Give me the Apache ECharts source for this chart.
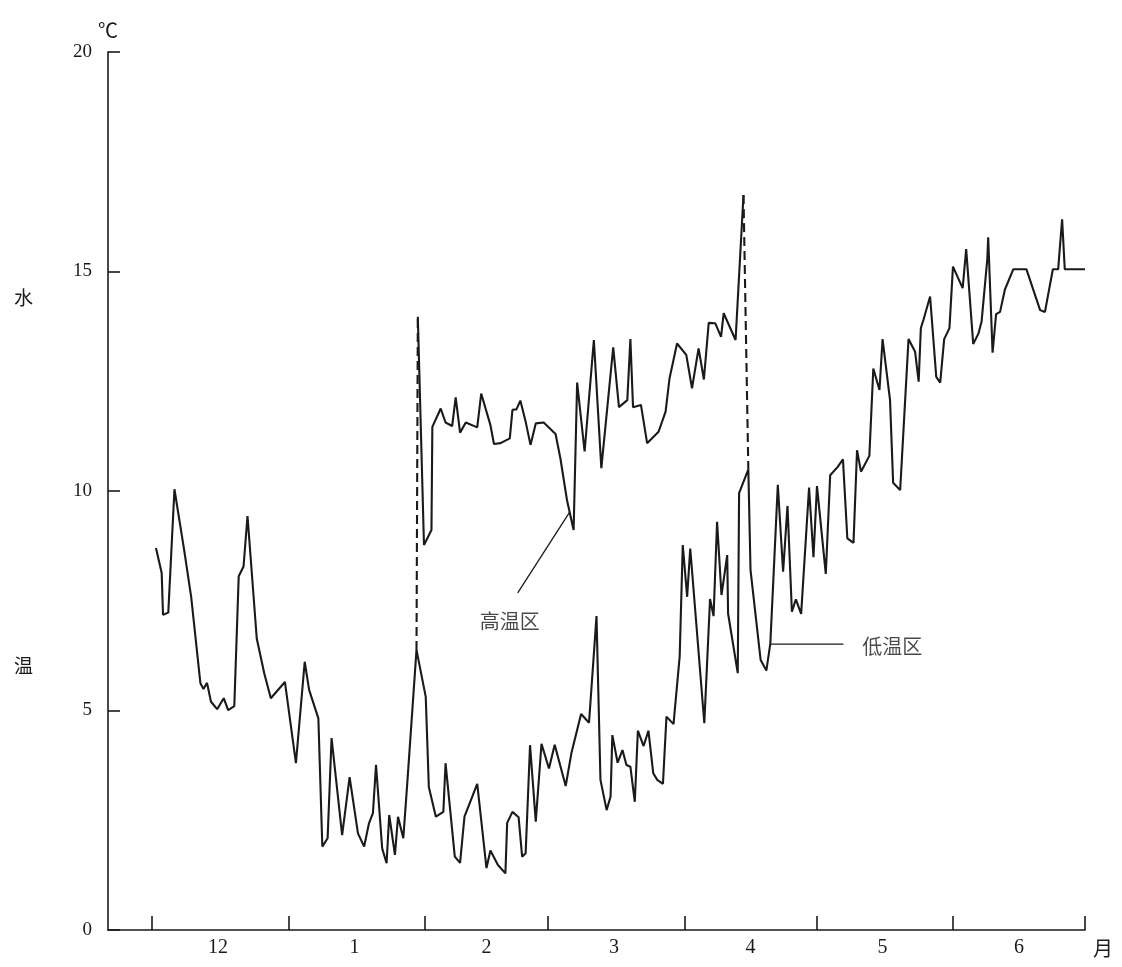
<!DOCTYPE html>
<html>
<head>
<meta charset="utf-8">
<title>水温变化</title>
<script src="https://cdn.jsdelivr.net/npm/echarts@6/dist/echarts.min.js"></script>
<style>
  html, body { margin: 0; padding: 0; background: #ffffff; }
  #chart { width: 1122px; height: 967px; }
</style>
</head>
<body>
<div id="chart"></div>
<script>
// x: days counted from 1 December; y: water temperature in ℃
const monthStarts = [0, 31, 62, 90, 121, 151, 182, 212];
const monthMids = [15, 46, 76, 105, 136, 166, 197];
const monthNames = ['12', '1', '2', '3', '4', '5', '6'];
const tempTicks = [0, 5, 10, 15, 20];

// low-temperature zone
const lowZone = [
  [0.9, 8.70], [2.2, 8.13], [2.5, 7.18], [3.7, 7.23], [5.1, 10.04], [5.5, 10.02],
  [7.3, 8.66], [8.9, 7.59], [11.0, 5.62], [11.7, 5.49], [12.5, 5.63], [13.4, 5.20],
  [14.8, 5.03], [16.3, 5.28], [17.3, 5.01], [18.7, 5.10], [19.7, 8.06], [20.8, 8.28],
  [21.7, 9.43], [23.8, 6.64], [25.5, 5.85], [27.0, 5.28], [30.2, 5.65], [32.7, 3.80],
  [34.7, 6.11], [35.7, 5.47], [37.8, 4.82], [38.7, 1.90], [39.9, 2.09], [40.8, 4.37],
  [43.2, 2.16], [44.9, 3.48], [46.8, 2.20], [48.2, 1.90], [49.3, 2.43], [50.2, 2.66],
  [50.9, 3.76], [52.3, 1.86], [53.3, 1.52], [53.9, 2.62], [55.2, 1.71], [55.9, 2.58],
  [57.1, 2.09], [58.0, 3.34], [60.1, 6.38], [62.2, 5.31], [62.9, 3.26], [64.5, 2.58],
  [66.2, 2.69], [66.7, 3.80], [68.8, 1.67], [70.0, 1.53], [71.0, 2.58], [73.9, 3.33],
  [76.0, 1.41], [76.9, 1.81], [78.6, 1.48], [80.3, 1.29], [80.7, 2.44], [81.9, 2.69],
  [83.3, 2.57], [84.1, 1.67], [84.9, 1.75], [85.9, 4.21], [87.2, 2.47], [88.5, 4.24],
  [90.2, 3.68], [91.5, 4.22], [94.0, 3.28], [95.3, 4.03], [97.5, 4.92], [99.3, 4.72],
  [101.0, 7.15], [101.9, 3.42], [103.3, 2.73], [104.2, 3.04], [104.6, 4.44], [105.8, 3.81],
  [106.9, 4.10], [107.8, 3.76], [108.7, 3.72], [109.7, 2.92], [110.4, 4.54], [111.7, 4.19],
  [112.8, 4.54], [113.9, 3.57], [114.8, 3.42], [116.1, 3.33], [116.9, 4.86], [118.5, 4.69],
  [119.9, 6.23], [120.6, 8.77], [121.6, 7.59], [122.3, 8.69], [125.5, 4.71], [126.8, 7.54],
  [127.6, 7.15], [128.4, 9.30], [129.4, 7.63], [130.7, 8.54], [130.9, 7.21], [133.1, 5.85],
  [133.4, 9.95], [135.5, 10.49], [136.0, 8.20], [138.3, 6.15], [139.6, 5.91], [140.5, 6.53],
  [142.2, 10.14], [143.4, 8.16], [144.4, 9.66], [145.4, 7.25], [146.3, 7.53], [147.5, 7.20],
  [149.3, 10.08], [150.3, 8.49], [151.1, 10.11], [153.1, 8.11], [154.1, 10.36], [155.8, 10.55],
  [157.0, 10.72], [158.0, 8.92], [159.4, 8.82], [160.2, 10.93], [161.1, 10.44], [163.0, 10.80],
  [163.9, 12.79], [165.3, 12.30], [166.0, 13.46], [167.7, 12.07], [168.4, 10.19], [170.0, 10.02],
  [171.9, 13.46], [173.4, 13.17], [174.2, 12.49], [174.7, 13.71], [175.3, 13.90], [176.8, 14.43],
  [178.2, 12.60], [179.1, 12.47], [180.0, 13.46], [181.2, 13.71], [182.0, 15.11], [184.2, 14.62],
  [185.0, 15.51], [186.6, 13.35], [187.8, 13.59], [188.5, 13.86], [189.8, 15.28], [190.0, 15.78],
  [191.0, 13.15], [191.8, 14.03], [192.7, 14.08], [193.8, 14.59], [195.7, 15.05], [198.7, 15.05],
  [201.8, 14.12], [202.9, 14.08], [204.7, 15.05], [205.9, 15.05], [206.8, 16.19], [207.4, 15.05],
  [212.0, 15.05]
];

// high-temperature zone
const highZone = [
  [60.4, 13.97], [61.8, 8.77], [63.5, 9.11], [63.7, 11.46], [65.6, 11.88], [66.7, 11.56],
  [68.2, 11.48], [69.0, 12.13], [70.0, 11.33], [71.3, 11.56], [73.9, 11.45], [74.8, 12.22],
  [76.9, 11.50], [77.7, 11.07], [79.2, 11.09], [81.3, 11.20], [81.9, 11.85], [82.8, 11.86],
  [83.7, 12.06], [84.9, 11.58], [86.0, 11.05], [87.2, 11.54], [89.0, 11.56], [91.7, 11.30],
  [92.8, 10.74], [94.3, 9.79], [95.8, 9.11], [96.6, 12.47], [98.3, 10.90], [100.4, 13.44],
  [102.1, 10.52], [104.8, 13.27], [106.1, 11.91], [108.0, 12.07], [108.7, 13.46], [109.3, 11.91],
  [111.1, 11.96], [112.5, 11.09], [115.1, 11.35], [116.7, 11.81], [117.6, 12.57], [119.3, 13.36],
  [121.4, 13.10], [122.7, 12.34], [124.2, 13.25], [125.4, 12.54], [126.5, 13.83], [128.0, 13.82],
  [129.3, 13.51], [129.9, 14.05], [132.6, 13.44], [134.4, 16.74]
];

// dashed links between the two zones
const linkStart = [[60.1, 6.38], [60.4, 13.97]];
const linkEnd = [[134.4, 16.74], [135.5, 10.49]];

// label leaders and label anchors
const highLeader = [[83.1, 7.68], [94.9, 9.52]];
const lowLeader = [[140.5, 6.51], [157.1, 6.51]];
const zoneLabels = [[81.3, 7.02, '高温区'], [168.2, 6.47, '低温区']];

const ink = '#1a1a1a';
const numFont = '"Liberation Serif", "DejaVu Serif", serif';
const cjkFont = '"Noto Sans CJK SC", "Noto Sans", sans-serif';

const chart = echarts.init(document.getElementById('chart'), null, { renderer: 'canvas' });

chart.setOption({
  backgroundColor: '#ffffff',
  animation: false,
  grid: { left: 108, right: 37, top: 52, bottom: 37, containLabel: false, outerBoundsMode: 'none' },
  xAxis: {
    type: 'value',
    min: -10,
    max: 212,
    name: '月',
    nameLocation: 'end',
    nameGap: 8,
    nameTextStyle: { color: ink, fontFamily: cjkFont, fontSize: 20, verticalAlign: 'top', padding: [8, 0, 0, 0] },
    axisLine: { show: true, onZero: false, lineStyle: { color: ink, width: 1.6 } },
    axisTick: { show: true, inside: true, length: 14, customValues: monthStarts, lineStyle: { color: ink, width: 1.6 } },
    axisLabel: {
      customValues: monthMids,
      color: ink,
      fontFamily: numFont,
      fontSize: 20,
      margin: 8,
      formatter: function (v) { return monthNames[monthMids.indexOf(v)]; }
    },
    splitLine: { show: false }
  },
  yAxis: {
    type: 'value',
    min: 0,
    max: 20,
    interval: 5,
    name: '℃',
    nameLocation: 'end',
    nameGap: 12,
    nameTextStyle: { color: ink, fontFamily: cjkFont, fontSize: 20, align: 'center' },
    axisLine: { show: true, onZero: false, lineStyle: { color: ink, width: 1.6 } },
    axisTick: { show: true, inside: true, length: 12, lineStyle: { color: ink, width: 1.6 } },
    axisLabel: {
      color: ink,
      fontFamily: numFont,
      fontSize: 19,
      margin: 16,
      formatter: function (v) { return tempTicks.indexOf(v) >= 0 ? String(v) : ''; }
    },
    splitLine: { show: false }
  },
  graphic: [
    { type: 'text', left: 14, top: 288, style: { text: '水', fill: ink, font: '19px ' + cjkFont } },
    { type: 'text', left: 14, top: 656, style: { text: '温', fill: ink, font: '19px ' + cjkFont } }
  ],
  series: [
    {
      name: '低温区', type: 'line', data: lowZone, symbol: 'none',
      lineStyle: { color: ink, width: 2.1 }
    },
    {
      name: '高温区', type: 'line', data: highZone, symbol: 'none',
      lineStyle: { color: ink, width: 2.1 }
    },
    {
      type: 'line', data: linkStart, symbol: 'none',
      lineStyle: { color: ink, width: 2.1, type: [9, 5] }
    },
    {
      type: 'line', data: linkEnd, symbol: 'none',
      lineStyle: { color: ink, width: 2.1, type: [9, 5] }
    },
    {
      type: 'line', data: highLeader, symbol: 'none',
      lineStyle: { color: ink, width: 1.3 }
    },
    {
      type: 'line', data: lowLeader, symbol: 'none',
      lineStyle: { color: ink, width: 1.3 }
    },
    {
      type: 'scatter', data: zoneLabels, symbolSize: 0,
      label: {
        show: true, position: 'inside', color: ink,
        fontFamily: cjkFont, fontSize: 20,
        formatter: function (p) { return p.value[2]; }
      }
    }
  ]
});
</script>
</body>
</html>
